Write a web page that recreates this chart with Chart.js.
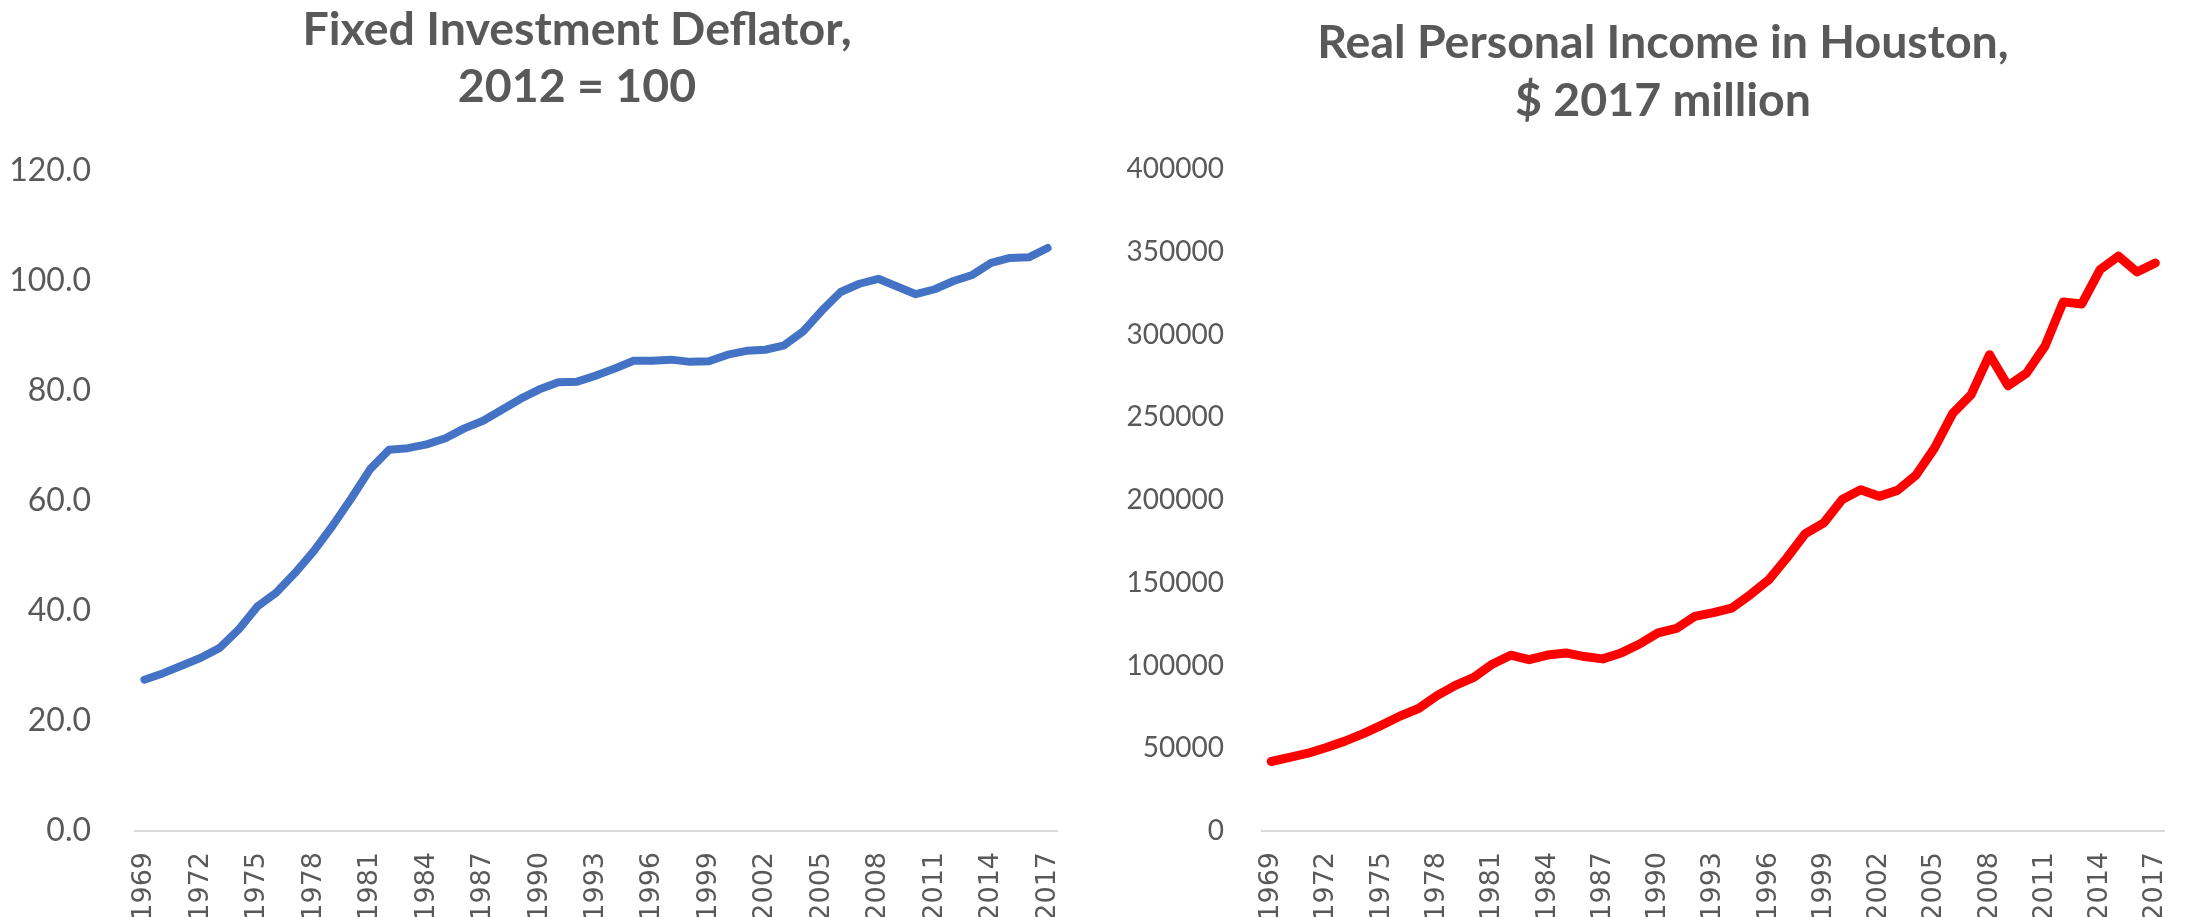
<!DOCTYPE html>
<html>
<head>
<meta charset="utf-8">
<script src="https://cdn.jsdelivr.net/npm/chart.js@4"></script>
<style>
  html, body { margin: 0; padding: 0; background: #fff; }
  #left { position: absolute; left: 0; top: 0; }
  #right { position: absolute; left: 1100px; top: 0; }
</style>
</head>
<body>
<canvas id="left" width="1100" height="917"></canvas>
<canvas id="right" width="1101" height="917"></canvas>
<script>
const years = [];
for (let y = 1969; y <= 2017; y++) years.push(String(y));

const deflatorValues = [
  27.5, 28.7, 30.1, 31.5, 33.3, 36.6, 40.8, 43.3, 46.9, 50.9,
  55.5, 60.5, 65.8, 69.3, 69.6, 70.3, 71.4, 73.2, 74.6, 76.6,
  78.6, 80.3, 81.6, 81.7, 82.8, 84.1, 85.5, 85.5, 85.7, 85.3,
  85.4, 86.6, 87.3, 87.5, 88.3, 90.8, 94.6, 98.0, 99.5, 100.4,
  99.0, 97.6, 98.5, 100.0, 101.1, 103.3, 104.2, 104.3, 106.0
];

const incomeValues = [
  42000, 44500, 47000, 50500, 54300, 58800, 64000, 69500, 74000, 81800,
  88000, 92800, 100800, 106200, 103500, 106300, 107600, 105400, 104000, 107600,
  113000, 119700, 122400, 129700, 131900, 134700, 142700, 151600, 165100, 179700,
  186200, 200300, 206200, 202200, 205800, 215000, 231200, 252300, 263700, 287800,
  269000, 276600, 292800, 319700, 318400, 339200, 347300, 337800, 343200
];

const deflatorTicks = { min: 0, max: 120, step: 20 };
const incomeTicks = { min: 0, max: 400000, step: 50000 };

const textGray = "#595959";

// Excel centres the title a bit right of the canvas middle, so draw it ourselves
const headTitle = {
  id: "headTitle",
  afterDraw(chart, args, o) {
    const ctx = chart.ctx;
    ctx.save();
    ctx.font = "bold " + o.size + "px Lato";
    ctx.fillStyle = textGray;
    ctx.textAlign = "center";
    ctx.textBaseline = "middle";
    o.lines.forEach((t, i) => ctx.fillText(t, o.x, o.y + i * o.gap));
    ctx.restore();
  },
};

function makeChart(id, opts) {
  return new Chart(document.getElementById(id).getContext("2d"), {
    type: "line",
    data: {
      labels: years,
      datasets: [{
        data: opts.values,
        borderColor: opts.color,
        borderWidth: opts.lineWidth,
        borderCapStyle: "round",
        borderJoinStyle: "round",
        pointRadius: 0,
        tension: 0,
        fill: false,
      }],
    },
    plugins: [headTitle],
    options: {
      responsive: false,
      animation: false,
      layout: { padding: { left: 0, right: opts.padRight, top: opts.padTop, bottom: 0 } },
      plugins: {
        legend: { display: false },
        tooltip: { enabled: false },
        title: { display: false },
        headTitle: opts.title,
      },
      scales: {
        x: {
          offset: true,
          grid: { display: false },
          border: { display: true, color: "#d9d9d9", width: 2 },
          ticks: {
            autoSkip: false,
            maxRotation: 90,
            minRotation: 90,
            padding: 13,
            color: textGray,
            font: { family: "DejaVu Sans", size: 27 },
            callback: (v, i) => (i % 3 === 0 ? years[i] : ""),
          },
          afterFit: (scale) => { scale.height = 86; },
        },
        y: {
          min: opts.ticks.min,
          max: opts.ticks.max,
          grid: { display: false },
          border: { display: false },
          ticks: {
            stepSize: opts.ticks.step,
            padding: opts.tickPad,
            color: textGray,
            font: { family: "Lato", size: opts.tickSize },
            callback: opts.fmt,
          },
          afterFit: (scale) => { scale.width = opts.axisWidth; },
        },
      },
    },
  });
}

makeChart("left", {
  values: deflatorValues,
  color: "#4472c4",
  lineWidth: 8,
  title: { lines: ["Fixed Investment Deflator,", "2012 = 100"], size: 46.5, x: 577, y: 30, gap: 57 },
  padTop: 171,
  ticks: deflatorTicks,
  tickPad: 36,
  tickSize: 32,
  axisWidth: 135,
  padRight: 43,
  fmt: (v) => v.toFixed(1),
});

makeChart("right", {
  values: incomeValues,
  color: "#ff0000",
  lineWidth: 9,
  title: { lines: ["Real Personal Income in Houston,", "$ 2017 million"], size: 46.5, x: 563, y: 43, gap: 58 },
  padTop: 169,
  ticks: incomeTicks,
  tickPad: 30,
  tickSize: 28,
  axisWidth: 162,
  padRight: 25,
  fmt: (v) => String(v),
});
</script>
</body>
</html>
